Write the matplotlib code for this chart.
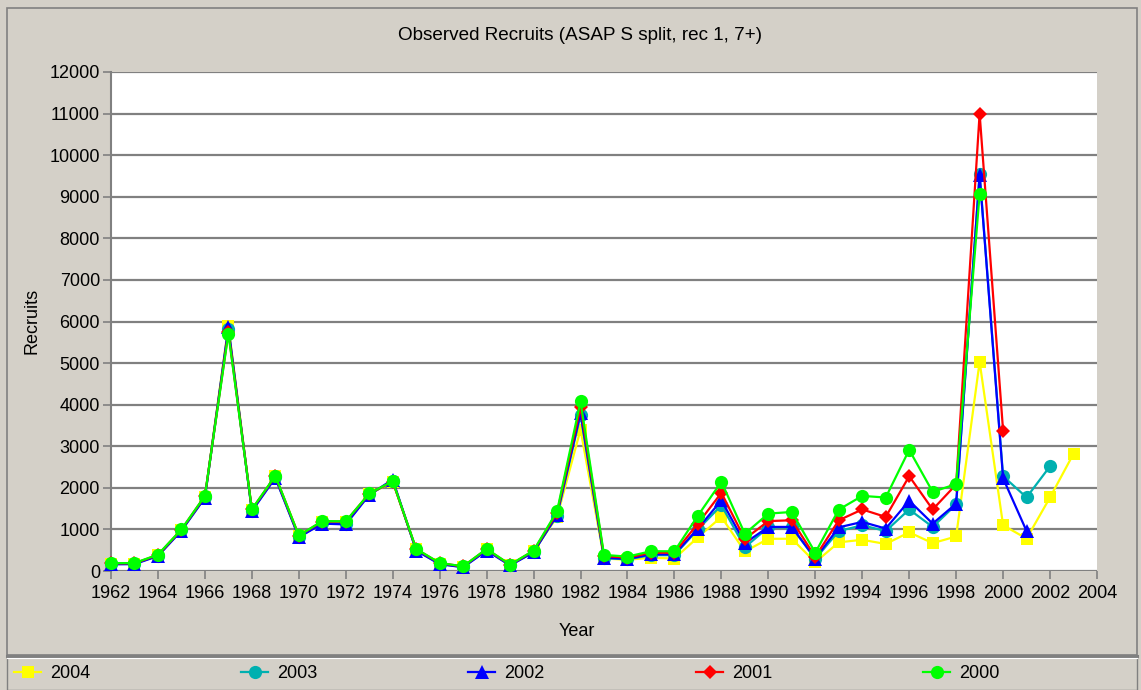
import matplotlib
matplotlib.use("Agg")
import matplotlib.pyplot as plt
from matplotlib.lines import Line2D
from matplotlib.patches import Rectangle
import numpy as np

plt.rcParams['font.family'] = ['Liberation Sans', 'DejaVu Sans']

years_2004 = list(range(1962, 2004))
years_2003 = list(range(1962, 2003))
years_2002 = list(range(1962, 2002))
years_2001 = list(range(1962, 2001))
years_2000 = list(range(1962, 2000))

rec_2004 = [180, 180, 380, 980, 1780, 5900, 1470, 2280, 840, 1180, 1180, 1850, 2150, 520, 180, 100, 520, 140, 470,
            1300, 3400, 300, 270, 320, 300, 810, 1300, 470, 775, 775, 210,
            690, 750, 650, 930, 670, 830, 5030, 1100, 780, 1770, 2820]
rec_2003 = [170, 175, 370, 975, 1770, 5820, 1450, 2250, 820, 1150, 1140, 1840, 2170, 500, 170, 95, 500, 140, 460,
            1330, 3750, 310, 280, 380, 380, 1000, 1580, 570, 1050, 1050, 290,
            960, 1100, 960, 1480, 1060, 1600, 9550, 2280, 1770, 2520]
rec_2002 = [160, 165, 360, 970, 1760, 5860, 1440, 2240, 810, 1140, 1120, 1830, 2200, 490, 165, 90, 490, 135, 450,
            1350, 3800, 320, 290, 400, 400, 1020, 1700, 670, 1060, 1060, 300,
            1050, 1180, 1020, 1690, 1140, 1620, 9530, 2230, 960]
rec_2001 = [185, 185, 385, 995, 1800, 5750, 1480, 2280, 850, 1190, 1190, 1860, 2150, 525, 190, 110, 525, 150, 485,
            1400, 3950, 360, 320, 440, 440, 1140, 1880, 770, 1200, 1220, 340,
            1220, 1480, 1300, 2280, 1480, 2080, 11000, 3370]
rec_2000 = [190, 190, 395, 1000, 1806, 5710, 1484, 2290, 855, 1200, 1195, 1864, 2160, 532, 194, 112, 532, 153, 491,
            1436, 4080, 387, 346, 475, 475, 1331, 2146, 895, 1380, 1420, 440,
            1477, 1806, 1767, 2913, 1903, 2090, 9070]

series = [
    ("2004", years_2004, rec_2004, "#ffff00", "s", 9),
    ("2003", years_2003, rec_2003, "#00b0b0", "o", 9.5),
    ("2002", years_2002, rec_2002, "#0000ff", "^", 9.5),
    ("2001", years_2001, rec_2001, "#ff0000", "D", 7.5),
    ("2000", years_2000, rec_2000, "#00ff00", "o", 9.5),
]

title = "Observed Recruits (ASAP S split, rec 1, 7+)"
xlabel = "Year"
ylabel = "Recruits"
xticks = list(range(1962, 2005, 2))
yticks = list(range(0, 12001, 1000))

W, H = 1141, 690
fig = plt.figure(figsize=(W / 100, H / 100), dpi=100)
bg = "#d4d0c8"
fig.patch.set_facecolor(bg)

# frames
fig.patches.append(Rectangle((7 / W, (H - 655) / H), (1137 - 7) / W, (655 - 8) / H,
                             transform=fig.transFigure, fill=False, edgecolor="#808080", lw=1.2))
fig.patches.append(Rectangle((7 / W, 0), (1137 - 7) / W, (H - 657) / H,
                             transform=fig.transFigure, fill=False, edgecolor="#808080", lw=1.0))
fig.lines.append(Line2D([7 / W, 1137 / W], [(H - 655.5) / H] * 2, transform=fig.transFigure,
                        color="#808080", lw=2.2))
fig.lines.append(Line2D([7 / W, 1137 / W], [(H - 657.5) / H] * 2, transform=fig.transFigure,
                        color="white", lw=0.8))

L, R, T, B = 111, 1097, 72, 571
ax = fig.add_axes([L / W, (H - B) / H, (R - L) / W, (B - T) / H])
ax.set_facecolor("white")
ax.set_xlim(1962, 2004)
ax.set_ylim(0, 12000)
ax.set_xticks(xticks)
ax.set_yticks(yticks)
ax.tick_params(axis='both', colors="#808080", labelcolor="black", labelsize=13, length=6, width=1.2)
ax.tick_params(axis='x', pad=4)
ax.tick_params(axis='y', pad=2)
for s in ["top", "right"]:
    ax.spines[s].set_visible(False)
ax.spines["left"].set_color("#808080")
ax.spines["left"].set_linewidth(1.5)
ax.spines["bottom"].set_visible(False)
ax.yaxis.grid(True, color="#808080", lw=1.6)
ax.set_axisbelow(True)

handles = []
for name, xs, ys, col, mk, ms in series:
    ln, = ax.plot(xs, ys, color=col, lw=1.6, marker=mk, markersize=ms, markeredgewidth=0,
                  clip_on=False, zorder=3)
    handles.append((ln, name))

fig.text(580 / W, 1 - 35 / H, title, ha="center", va="center", fontsize=13.6)
fig.text(577 / W, 1 - 632 / H, xlabel, ha="center", va="center", fontsize=13)
fig.text(32 / W, 1 - 321 / H, ylabel, ha="center", va="center", fontsize=13, rotation=90)

leg_x = [14, 241, 468, 696, 923]
for (ln, name), lx in zip(handles, leg_x):
    h = Line2D([], [], color=ln.get_color(), lw=1.6, marker=ln.get_marker(),
               markersize=ln.get_markersize(), markeredgewidth=0)
    lg = fig.legend([h], [name], loc="center left", bbox_to_anchor=(lx / W, 1 - 674 / H),
                    frameon=False, fontsize=13, handlelength=1.5, handletextpad=0.5,
                    borderpad=0, borderaxespad=0)

fig.savefig("out.png", dpi=100, facecolor=bg)
